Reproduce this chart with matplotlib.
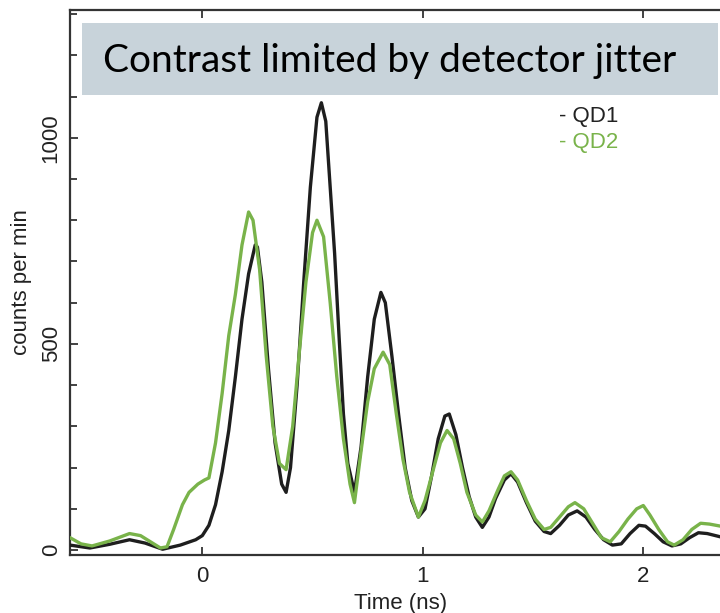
import numpy as np
import matplotlib.pyplot as plt
from matplotlib.patches import Rectangle
from matplotlib.ticker import MultipleLocator

# time-resolved counts for the two dots (time in ns, counts per min)
t_qd1 = [-0.60, -0.51, -0.42, -0.33, -0.26, -0.18, -0.10, -0.03, 0.00, 0.03,
         0.06, 0.09, 0.12, 0.15, 0.18, 0.21, 0.24, 0.25, 0.27, 0.30,
         0.33, 0.36, 0.38, 0.40, 0.43, 0.46, 0.49, 0.52, 0.54, 0.56,
         0.58, 0.60, 0.62, 0.64, 0.66, 0.69, 0.72, 0.75, 0.78, 0.81,
         0.83, 0.86, 0.89, 0.92, 0.95, 0.98, 1.01, 1.04, 1.07, 1.10,
         1.12, 1.15, 1.18, 1.21, 1.24, 1.27, 1.30, 1.33, 1.37, 1.40,
         1.43, 1.47, 1.51, 1.55, 1.58, 1.62, 1.66, 1.70, 1.74, 1.78,
         1.82, 1.86, 1.90, 1.94, 1.98, 2.01, 2.05, 2.09, 2.13, 2.17,
         2.21, 2.25, 2.29, 2.35]
qd1 = [12, 5, 14, 25, 17, 2, 12, 25, 35, 60,
       110, 190, 290, 420, 560, 670, 740, 735, 650, 440,
       260, 160, 140, 200, 400, 650, 880, 1050, 1085, 1040,
       880, 720, 520, 330, 210, 140, 250, 420, 560, 625,
       600, 470, 330, 200, 120, 80, 100, 180, 270, 325,
       330, 280, 200, 130, 80, 55, 80, 125, 170, 185,
       165, 115, 70, 45, 40, 60, 85, 95, 80, 50,
       25, 12, 15, 40, 60, 58, 40, 20, 10, 15,
       30, 42, 40, 32]

t_qd2 = [-0.60, -0.55, -0.50, -0.42, -0.33, -0.28, -0.22, -0.19, -0.16, -0.13,
         -0.09, -0.06, -0.02, 0.01, 0.03, 0.06, 0.09, 0.12, 0.15, 0.18,
         0.21, 0.23, 0.26, 0.29, 0.32, 0.35, 0.38, 0.41, 0.44, 0.47,
         0.50, 0.52, 0.55, 0.58, 0.61, 0.64, 0.67, 0.69, 0.72, 0.75,
         0.78, 0.82, 0.85, 0.88, 0.91, 0.94, 0.98, 1.01, 1.05, 1.08,
         1.11, 1.14, 1.17, 1.20, 1.24, 1.27, 1.30, 1.34, 1.37, 1.40,
         1.43, 1.47, 1.51, 1.55, 1.58, 1.62, 1.66, 1.69, 1.73, 1.77,
         1.81, 1.85, 1.89, 1.93, 1.97, 2.00, 2.03, 2.07, 2.11, 2.14,
         2.18, 2.22, 2.26, 2.30, 2.35]
qd2 = [30, 15, 10, 22, 40, 35, 15, 5, 8, 50,
       110, 140, 160, 170, 175, 260, 380, 520, 620, 740,
       820, 800, 680, 470, 300, 210, 195, 300, 480, 650,
       770, 800, 760, 600, 420, 270, 160, 115, 240, 360,
       440, 480, 450, 330, 220, 140, 80, 120, 200, 260,
       290, 270, 210, 140, 85, 68, 95, 145, 180, 190,
       170, 120, 75, 50, 55, 80, 105, 115, 100, 65,
       30, 20, 45, 75, 100, 108, 85, 50, 20, 12,
       25, 50, 65, 63, 58]

x_ticks = [0, 1, 2]
y_ticks = [0, 500, 1000]
title = "Contrast limited by detector jitter"

GREEN = "#79b34a"
DARK = "#1e1e1e"

plt.rcParams["font.family"] = ["Liberation Sans", "DejaVu Sans"]

fig = plt.figure(figsize=(7.2, 6.13), dpi=100)
W, H = 720, 613
# axes run past the right edge so the right spine is off canvas
x0, x1 = -0.6, 2.4
px_per_ns = 220.5
ax_w = (x1 - x0) * px_per_ns
ax = fig.add_axes([70 / W, (H - 555) / H, ax_w / W, 545 / H])

ax.plot(t_qd1, qd1, color=DARK, lw=2.4, zorder=3, solid_joinstyle="round")
ax.plot(t_qd2, qd2, color=GREEN, lw=2.4, zorder=4, solid_joinstyle="round")

ax.set_xlim(x0, x1)
ax.set_ylim(-12, 1310)
ax.set_xticks(x_ticks)
ax.set_yticks(y_ticks)
ax.yaxis.set_minor_locator(MultipleLocator(100))
ax.tick_params(axis="both", which="both", direction="in", colors="#333333",
               labelcolor="#222222", labelsize=16, width=1.3)
ax.tick_params(axis="both", which="major", length=6)
ax.tick_params(axis="y", which="minor", length=5)
ax.tick_params(axis="x", top=True, pad=8)
for lab in ax.get_yticklabels():
    lab.set_rotation(90)
    lab.set_va("center")
ax.tick_params(axis="y", pad=6)

for side in ("left", "bottom", "top"):
    ax.spines[side].set_linewidth(1.6)
    ax.spines[side].set_color("#333333")
ax.spines["right"].set_visible(False)

ax.set_xlabel("Time (ns)", fontsize=16, color="#222222", labelpad=4)
ax.set_ylabel("counts per min", fontsize=16, color="#222222", labelpad=6)

# legend written as coloured text
fig.text(559 / W, 1 - 122 / H, "- QD1", fontsize=16, color="#222222")
fig.text(559 / W, 1 - 148 / H, "- QD2", fontsize=16, color=GREEN)

# banner across the top
fig.patches.append(Rectangle((82 / W, 1 - 95 / H), (718 - 82) / W, 72 / H,
                             transform=fig.transFigure, facecolor="#c8d3da",
                             edgecolor="none", zorder=5))
fig.text(390 / W, 1 - 61 / H, title, fontsize=28, family="Lato",
         color="black", ha="center", va="center", zorder=6)

fig.savefig("out.png", dpi=100)
